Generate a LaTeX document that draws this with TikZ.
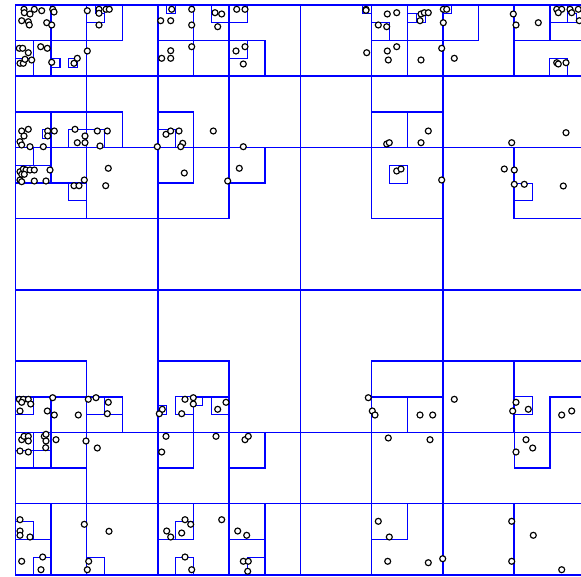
\documentclass[tikz,border=0pt]{standalone}
\usepackage{tikz}

\begin{document}
\begin{tikzpicture}[x=1pt,y=-1pt,
    cellA/.style={draw=blue, line width=1.8pt},
    cellB/.style={draw=blue, line width=1.5pt},
    cellC/.style={draw=blue, line width=1.3pt},
    cellD/.style={draw=blue, line width=1.1pt},
    pnt/.style={draw=black, fill=white, line width=1.15pt},
]
\useasboundingbox (0,0) rectangle (581,577);

% quadtree cells, in units of the finest cell
\begin{scope}[shift={(15.5,5)}, x=8.906pt, y=-8.906pt]
    \draw[cellA] \foreach \i in {0,16,32,48} {
        \foreach \j in {0,16,32,48} {(\i,\j) rectangle ++(16,16)}};
    \draw[cellB] \foreach \i/\j in {0/0,8/0,0/8,8/8,16/0,24/0,16/8,24/8,32/0,40/0,32/8,40/8,
        48/0,56/0,0/16,8/16,16/16,40/16,56/16,0/40,16/40,40/40,48/40,56/40,
        0/48,8/48,0/56,8/56,16/48,24/48,16/56,24/56,32/48,40/48,32/56,40/56,48/56,56/56}
        {(\i,\j) rectangle ++(8,8)};
    \draw[cellC] \foreach \i/\j in {0/0,4/0,0/4,4/4,8/0,0/12,4/12,8/12,16/0,20/0,16/4,20/4,
        24/4,16/12,40/0,44/0,40/4,44/4,40/12,44/12,48/0,56/0,60/0,0/16,4/16,16/16,24/16,
        0/44,4/44,8/44,20/44,40/44,44/44,60/44,0/48,4/48,0/56,0/60,
        16/48,24/48,16/56,24/56,24/60,40/56,56/48}
        {(\i,\j) rectangle ++(4,4)};
    \draw[cellD] \foreach \i/\j in {8/0,22/0,24/0,24/4,40/2,60/0,60/6,0/16,2/16,6/20,42/18,
        56/20,0/44,8/44,10/44,18/44,22/44,56/44,0/48,2/50,0/58,2/62,8/62,18/58,18/62,26/62,
        6/14,8/14,16/14,0/4,0/6}
        {(\i,\j) rectangle ++(2,2)};
    \draw[cellD] \foreach \i/\j in {9/0,4/6,6/6,3/14,17/0,39/0,48/0,16/45,20/44,62/1,44/1,45/1}
        {(\i,\j) rectangle ++(1,1)};
\end{scope}

% sample points
\foreach \x/\y in {24/9.3,24.3/12.7,30/14,34.3/9.3,41.7/10.7,52.7/9.3,54/12,21.7/20.7,
    28.3/21.7,29.3/25,46.7/22.7,51.7/25,87.3/10.7,99/9.3,99/13.3,106/9.3,109.3/9.3,99/25,
    171.7/9.3,160.7/20.7,170.7/20.7,191.7/9.3,191.7/25,
    19.3/48.3,22.7/48.3,28.3/52.7,40.7/46.7,47.3/48.3,20/63.3,23.3/63.3,25/59.3,31.7/60,
    51.7/62.3,74/63.3,77.3/58.3,87.3/51,191.7/46.7,170.7/50.7,161.7/58.3,170.7/58.3,
    21.7/131,28.3/129.3,24/136,20/141.7,21.7/145,30/146.7,43.3/146.7,47.7/131,54.3/131,
    47.7/136,75/129.3,85/136,77.3/142.7,85/142.7,97.3/131,107.3/131,100/146,157.3/146.7,
    166/134.3,170.7/131,179/131,182.7/143.3,180.7/146.7,
    215/12.7,221.7/14,236.7/9.3,245/9.3,217.7/26.7,236/51,245/46.7,243.3/64,366/9.3,
    366/10.3,378.3/25,386.7/26.7,387.3/14,366.7/52.7,387.3/51,388.3/60,213.3/131,
    243.3/146.7,386.7/144,389.3/142.7,
    396.7/12.7,421/14,424.3/12.7,428.3/12.7,420/20.7,443.3/9.3,446.7/9.3,443.3/22.7,
    513.3/14,516/25,538.3/22.7,556.7/9.3,561.7/9.3,558.3/12.7,570/9.3,578.3/9.3,
    579.3/20.7,571.7/12.7,396.7/46.7,421/60,441.7/48.3,454.3/58.3,556.7/62.7,558.3/64,
    566/62.7,421/142.7,428.3/131,511.7/142.7,566/132.7,
    20/171.7,23.3/169,26/170,30/170,34.3/170,21.7/174.3,24.3/174.3,20/180,21.7/181.7,
    34.3/181,46/181,50/170,74/185.7,79/185.7,84.3/180,108.3/168.3,105.7/185.7,184.3/173,
    239.3/168.3,227.7/181,396.7/171,401/169,441.7/180,504.3/169,514.3/170,514.3/184.3,
    524.3/184.3,563.3/186,
    19.3/399.3,23.3/399.3,28.3/399.3,21.7/402.3,30.7/404,20/411,52.7/397.7,47.3/411,
    54.3/415,78.3/415,88.3/399.3,96/397.7,108.3/402.3,107.3/413.7,159.3/413.7,
    162.3/409.3,185/399.3,181.7/413.7,193.3/397.7,193.3/404,226/402.3,217.7/409.3,
    368.3/397.7,372.3/411,375/415,420/415,432.7/415,454.3/399.3,516/402.3,512.7/411,
    528.3/409.3,561.7/415,571.7/411,
    21.7/439.7,24/436.3,28.3/436.3,28.3/441,20/451,28.3/452,44.3/436.3,46/434.3,46/441,
    45.7/447.7,56/439.7,86/441,97.3/448,166/436.3,161.7/452,20/519.7,20/531,20/535.3,
    30/537,21.7/561.3,42.7/557,41/569.7,84.3/524.3,109/531.3,88.7/561.3,87.3/569.7,
    185/519.7,190.7/524.3,166.7/531,170.7/537,181.7/533,185/557,191.7/569.7,
    216/436.3,245/439.7,248.3/436.3,221.7/519.7,237.7/531,246.7/535.3,243.3/561.3,
    248.3/561.3,247.7/571.3,388.3/438,378.3/521.3,389.3/537,387.7/561.3,
    430/439.7,526/439.7,532.7/448,516/452,511.7/521.3,533.3/535.3,428.3/562.7,
    442.7/558.7,511.7/561.3,561.7/569.7}
    \draw[pnt] (\x,\y) circle (3.0);
\end{tikzpicture}
\end{document}
